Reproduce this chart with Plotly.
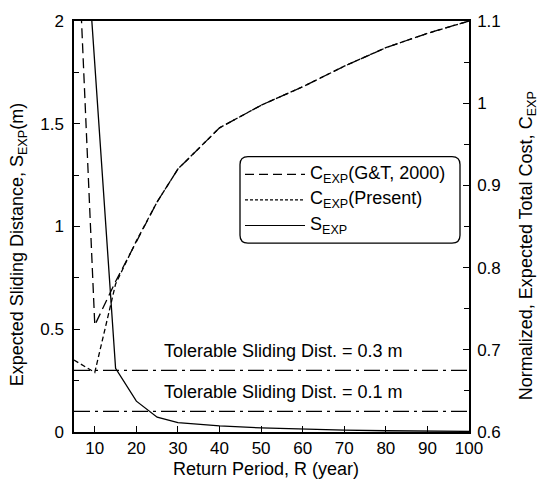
import plotly.graph_objects as go

# Return periods (years)
return_period = [5, 10, 15, 20, 25, 30, 40, 50, 60, 70, 80, 90, 100]

# Normalized expected total cost (right axis)
c_exp_gt2000 = [1.31, 0.73, 0.783, 0.8325, 0.88, 0.92, 0.97, 0.9975, 1.02, 1.045, 1.0675, 1.085, 1.1]
c_exp_present = [0.6875, 0.6725, 0.78, 0.8325, 0.88, 0.92, 0.97, 0.9975, 1.02, 1.045, 1.0675, 1.085, 1.1]

# Expected sliding distance in metres (left axis)
s_exp = [3.27, 1.79, 0.31, 0.15, 0.072, 0.046, 0.03, 0.02, 0.013, 0.009, 0.006, 0.004, 0.003]

# Tolerable sliding distances (m)
tolerable = [0.3, 0.1]
tolerable_labels = ["Tolerable Sliding Dist. = 0.3 m", "Tolerable Sliding Dist. = 0.1 m"]

FONT = "Liberation Sans, Arial, Helvetica, sans-serif"
FS = 18
TICK_FS = 17
W, H = 542, 484
L, R, T, B = 74, 469, 14, 432  # plot area in pixels


def pxx(xp):
    return (xp - L) / (R - L)


def pxy(yp):
    return (B - yp) / (B - T)


fig = go.Figure()

line_w = 1.3
fig.add_trace(go.Scatter(x=return_period, y=s_exp, mode="lines", yaxis="y",
                         line=dict(color="black", width=line_w), showlegend=False))
fig.add_trace(go.Scatter(x=return_period, y=c_exp_gt2000, mode="lines", yaxis="y2",
                         line=dict(color="black", width=line_w, dash="10px,5px"), showlegend=False))
fig.add_trace(go.Scatter(x=return_period, y=c_exp_present, mode="lines", yaxis="y2",
                         line=dict(color="black", width=line_w, dash="5px,3px"), showlegend=False))

for val in tolerable:
    fig.add_trace(go.Scatter(x=[return_period[0], return_period[-1]], y=[val, val], mode="lines",
                             yaxis="y", line=dict(color="black", width=line_w, dash="16px,5px,3px,5px"),
                             showlegend=False))

# Labels above the tolerable-distance lines
for val, txt in zip(tolerable, tolerable_labels):
    fig.add_annotation(x=55.5, y=val, xref="x", yref="y", yshift=19, text=txt, showarrow=False,
                       xanchor="center", yanchor="middle",
                       font=dict(family=FONT, size=FS, color="black"))

# Legend box with rounded corners
bx0, by0, bx1, by1, rad = 240, 152, 460, 240, 8
rx, ry = rad / (R - L), rad / (B - T)
x0, x1, y0, y1 = pxx(bx0), pxx(bx1), pxy(by1), pxy(by0)
path = (f"M {x0 + rx},{y1} L {x1 - rx},{y1} Q {x1},{y1} {x1},{y1 - ry} "
        f"L {x1},{y0 + ry} Q {x1},{y0} {x1 - rx},{y0} L {x0 + rx},{y0} "
        f"Q {x0},{y0} {x0},{y0 + ry} L {x0},{y1 - ry} Q {x0},{y1} {x0 + rx},{y1} Z")
fig.add_shape(type="path", path=path, xref="paper", yref="paper",
              line=dict(color="black", width=1.3), fillcolor="white", layer="above")

legend_rows = [
    ("C<sub>EXP</sub>(G&T, 2000)", "9px,5px", 170),
    ("C<sub>EXP</sub>(Present)", "3px,2px", 196),
    ("S<sub>EXP</sub>", "solid", 222),
]
for txt, dash, yp in legend_rows:
    fig.add_shape(type="line", xref="paper", yref="paper", x0=pxx(245), x1=pxx(305),
                  y0=pxy(yp), y1=pxy(yp), line=dict(color="black", width=1.2, dash=dash),
                  layer="above")
    fig.add_annotation(x=pxx(308), y=pxy(yp), xref="paper", yref="paper", text=txt,
                       showarrow=False, xanchor="left", yanchor="middle",
                       font=dict(family=FONT, size=FS, color="black"))

# Axis titles
fig.add_annotation(x=pxx(18), y=pxy(242), xref="paper", yref="paper",
                   text="Expected Sliding Distance, S<sub>EXP</sub>(m)", textangle=-90,
                   showarrow=False, xanchor="center", yanchor="middle",
                   font=dict(family=FONT, size=FS, color="black"))
fig.add_annotation(x=pxx(527), y=pxy(243), xref="paper", yref="paper",
                   text="Normalized, Expected Total Cost, C<sub>EXP</sub>", textangle=-90,
                   showarrow=False, xanchor="center", yanchor="middle",
                   font=dict(family=FONT, size=FS, color="black"))
fig.add_annotation(x=pxx(266), y=pxy(470), xref="paper", yref="paper",
                   text="Return Period, R (year)", showarrow=False,
                   xanchor="center", yanchor="middle",
                   font=dict(family=FONT, size=FS, color="black"))

axis_common = dict(showline=True, linecolor="black", linewidth=1.5, ticks="inside",
                   tickcolor="black", ticklen=6, tickwidth=1.3, showgrid=False, zeroline=False,
                   tickfont=dict(family=FONT, size=TICK_FS, color="black"))

fig.update_layout(
    width=W, height=H,
    margin=dict(l=L, r=W - R, t=T, b=H - B),
    paper_bgcolor="white", plot_bgcolor="white",
    xaxis=dict(range=[5, 100], tickvals=[10, 20, 30, 40, 50, 60, 70, 80, 90, 100],
               mirror=True, ticklabelstandoff=0, **axis_common),
    yaxis=dict(range=[0, 2], tickvals=[0, 0.5, 1, 1.5, 2], ticktext=["0", "0.5", "1", "1.5", "2"],
               minor=dict(tickvals=[0.25, 0.75, 1.25, 1.75], ticks="inside", ticklen=5,
                          tickcolor="black", tickwidth=1.3),
               ticklabelstandoff=5, **axis_common),
    yaxis2=dict(range=[0.6, 1.1], overlaying="y", side="right",
                tickvals=[0.6, 0.7, 0.8, 0.9, 1.0, 1.1], ticktext=["0.6", "0.7", "0.8", "0.9", "1", "1.1"],
                minor=dict(tickvals=[0.65, 0.75, 0.85, 0.95, 1.05], ticks="inside", ticklen=5,
                           tickcolor="black", tickwidth=1.3),
                ticklabelstandoff=3, **axis_common),
)

fig.write_html("out.html")
